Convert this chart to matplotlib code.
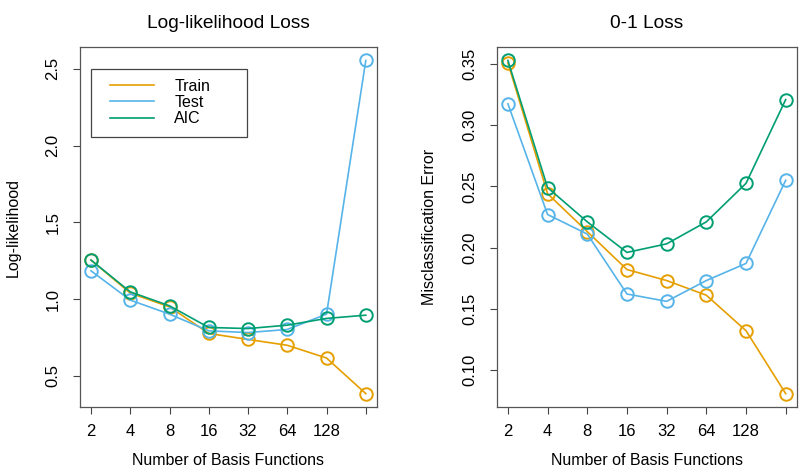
import numpy as np
import matplotlib.pyplot as plt
from matplotlib.patches import Rectangle

plt.rcParams['font.family'] = ['Liberation Sans', 'DejaVu Sans']

# number of basis functions (log2 positions), last one unlabeled
basis = [2, 4, 8, 16, 32, 64, 128, 256]
tick_labels = ['2', '4', '8', '16', '32', '64', '128']

# log-likelihood loss
ll_train = [1.255, 1.040, 0.950, 0.777, 0.738, 0.700, 0.617, 0.385]
ll_test = [1.185, 0.994, 0.903, 0.794, 0.783, 0.803, 0.903, 2.555]
ll_aic = [1.255, 1.048, 0.957, 0.816, 0.809, 0.831, 0.875, 0.896]

# 0-1 loss
err_train = [0.351, 0.244, 0.213, 0.182, 0.173, 0.161, 0.132, 0.0805]
err_test = [0.3175, 0.227, 0.211, 0.162, 0.156, 0.173, 0.187, 0.255]
err_aic = [0.353, 0.249, 0.221, 0.196, 0.203, 0.221, 0.2525, 0.321]

colors = {'Train': '#E69F00', 'Test': '#56B4E9', 'AIC': '#009E73'}

fig = plt.figure(figsize=(8, 4.76), dpi=100)
ax1 = fig.add_axes([0.100, 0.145, 0.371, 0.756])
ax2 = fig.add_axes([0.621, 0.145, 0.375, 0.756])

x = np.log2(basis)


def r_range(vals):
    # R-style 4% padding
    lo, hi = min(vals), max(vals)
    pad = (hi - lo) * 0.04
    return lo - pad, hi + pad


def draw(ax, series, title, ylabel, yticks, yfmt):
    for name, vals in series:
        ax.plot(x, vals, color=colors[name], lw=1.2, marker='o', ms=9,
                mfc='none', mew=1.4, label=name)
    allv = [v for _, s in series for v in s]
    ax.set_ylim(*r_range(allv))
    ax.set_xlim(*r_range(list(x)))
    ax.set_xticks(x)
    ax.set_xticklabels(tick_labels + [''])
    ax.set_yticks(yticks)
    ax.set_yticklabels([yfmt.format(t) for t in yticks], rotation=90, va='center')
    ax.tick_params(labelsize=12, length=5, width=0.8, color='#444444')
    ax.tick_params(axis='x', pad=7)
    ax.tick_params(axis='y', pad=9)
    for s in ax.spines.values():
        s.set_color('#555555')
        s.set_linewidth(0.9)
    ax.set_title(title, fontsize=13.8, pad=13.5)
    ax.set_xlabel('Number of Basis Functions', fontsize=11.5, labelpad=10)
    ax.set_ylabel(ylabel, fontsize=11.5, labelpad=18)


draw(ax1, [('Train', ll_train), ('Test', ll_test), ('AIC', ll_aic)],
     'Log-likelihood Loss', 'Log-likelihood', [0.5, 1.0, 1.5, 2.0, 2.5], '{:.1f}')
draw(ax2, [('Train', err_train), ('Test', err_test), ('AIC', err_aic)],
     '0-1 Loss', 'Misclassification Error',
     [0.10, 0.15, 0.20, 0.25, 0.30, 0.35], '{:.2f}')

# legend frame drawn separately, R-style box
ax1.add_patch(Rectangle((0.036, 0.75), 0.526, 0.189, transform=ax1.transAxes,
                        fill=False, edgecolor='#444444', lw=0.9, zorder=5))
handles = [plt.Line2D([], [], color=colors[n], lw=1.2) for n in ['Train', 'Test', 'AIC']]
ax1.legend(handles, ['Train', 'Test', 'AIC'], loc='upper left',
           bbox_to_anchor=(0.102, 0.912), fontsize=11.5, frameon=False,
           handlelength=2.75, handletextpad=1.25, borderpad=0,
           labelspacing=0.08, borderaxespad=0)

fig.savefig('out.png', dpi=100)
